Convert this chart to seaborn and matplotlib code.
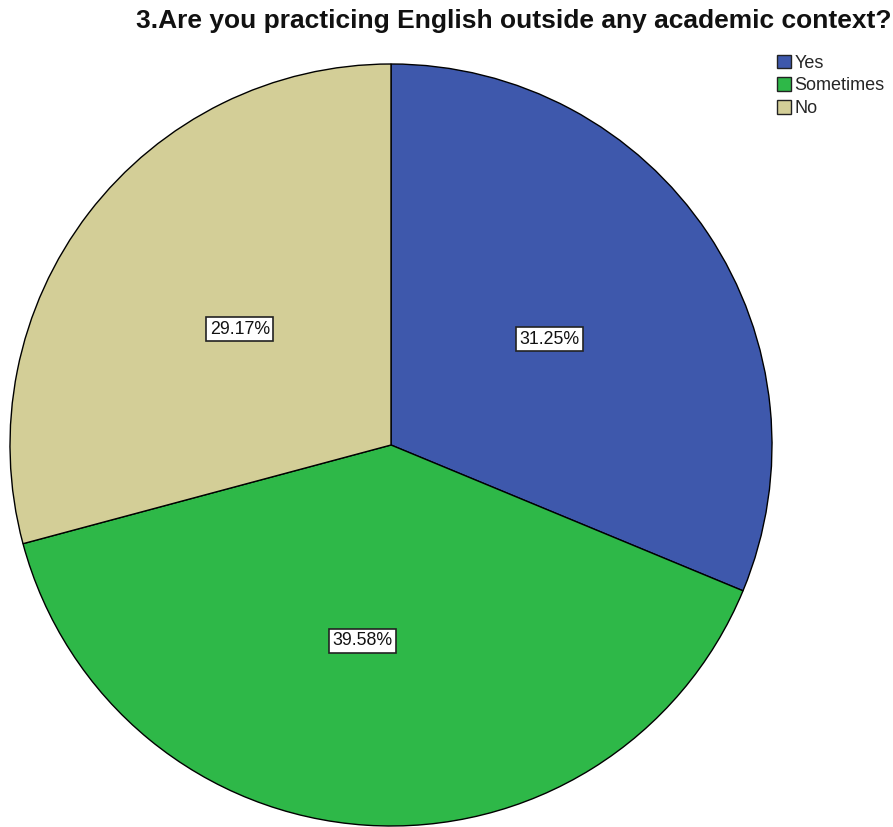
import matplotlib
matplotlib.use("Agg")
import matplotlib.pyplot as plt
import seaborn as sns
from matplotlib.patches import Patch

sns.set_theme(style="white")
plt.rcParams["font.family"] = ["Liberation Sans", "DejaVu Sans"]

categories = ["Yes", "Sometimes", "No"]
percentages = [31.25, 39.58, 29.17]
colors = ["#3E58AC", "#2EB848", "#D3CE97"]
title = "3.Are you practicing English outside any academic context?"

W, H = 893, 827
fig = plt.figure(figsize=(W / 100, H / 100), dpi=100)
fig.patch.set_facecolor("white")

# square axes holding the pie (centre ~ (391, 445) px, radius ~381 px)
cx, cy, r = 391, 445, 381
ax = fig.add_axes([(cx - r) / W, (H - cy - r) / H, 2 * r / W, 2 * r / H])
ax.set_facecolor("none")

wedges, texts, autotexts = ax.pie(
    percentages,
    colors=colors,
    startangle=90,
    counterclock=False,
    autopct=lambda p: f"{p:.2f}%",
    pctdistance=0.5,
    wedgeprops=dict(edgecolor="black", linewidth=1.0),
    textprops=dict(fontsize=12.8, color="#111111"),
)
for t in autotexts:
    t.set_bbox(dict(boxstyle="square,pad=0.2", facecolor="white",
                    edgecolor="#222222", linewidth=1.2))
# the middle label sits a little left of the wedge bisector
autotexts[1].set_position((-0.074, -0.514))

ax.set_xlim(-1, 1)
ax.set_ylim(-1, 1)
ax.set_aspect("auto")
ax.axis("off")

fig.text(0.5756, 1 - 28 / H, title, ha="center", va="baseline",
         fontsize=19, fontweight="bold", color="#111111")

handles = [Patch(facecolor=c, edgecolor="#222222", linewidth=1.0, label=l)
           for c, l in zip(colors, categories)]
fig.legend(handles=handles, loc="upper left",
           bbox_to_anchor=(764 / W, 1 - 42 / H), frameon=False,
           fontsize=13, handlelength=0.8, handleheight=0.8,
           handletextpad=0.2, labelspacing=0.3, borderpad=0.2)

fig.savefig("out.png", dpi=100, facecolor="white")
